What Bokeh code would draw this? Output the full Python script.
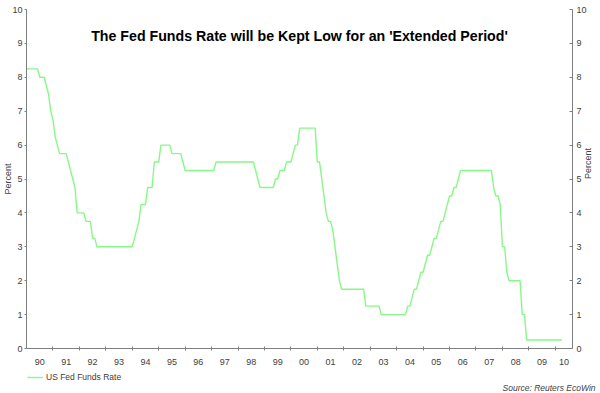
import math
from bokeh.plotting import figure
from bokeh.layouts import column
from bokeh.models import (LinearAxis, FixedTicker, Label, Legend, LegendItem,
                          Range1d)
from bokeh.embed import file_html
from bokeh.resources import INLINE

# Month-end US Fed Funds target rate (%), Jan..Dec of each year
r1990 = [8.25, 8.25, 8.25, 8.25, 8.25, 8.25, 8.0, 8.0, 8.0, 7.75, 7.5, 7.0]
r1991 = [6.75, 6.25, 6.0, 5.75, 5.75, 5.75, 5.75, 5.5, 5.25, 5.0, 4.75, 4.0]
r1992 = [4.0, 4.0, 4.0, 3.75, 3.75, 3.75, 3.25, 3.25, 3.0, 3.0, 3.0, 3.0]
r1993 = [3.0, 3.0, 3.0, 3.0, 3.0, 3.0, 3.0, 3.0, 3.0, 3.0, 3.0, 3.0]
r1994 = [3.0, 3.25, 3.5, 3.75, 4.25, 4.25, 4.25, 4.75, 4.75, 4.75, 5.5, 5.5]
r1995 = [5.5, 6.0, 6.0, 6.0, 6.0, 6.0, 5.75, 5.75, 5.75, 5.75, 5.75, 5.5]
r1996 = [5.25, 5.25, 5.25, 5.25, 5.25, 5.25, 5.25, 5.25, 5.25, 5.25, 5.25, 5.25]
r1997 = [5.25, 5.25, 5.5, 5.5, 5.5, 5.5, 5.5, 5.5, 5.5, 5.5, 5.5, 5.5]
r1998 = [5.5, 5.5, 5.5, 5.5, 5.5, 5.5, 5.5, 5.5, 5.25, 5.0, 4.75, 4.75]
r1999 = [4.75, 4.75, 4.75, 4.75, 4.75, 5.0, 5.0, 5.25, 5.25, 5.25, 5.5, 5.5]
r2000 = [5.5, 5.75, 6.0, 6.0, 6.5, 6.5, 6.5, 6.5, 6.5, 6.5, 6.5, 6.5]
r2001 = [5.5, 5.5, 5.0, 4.5, 4.0, 3.75, 3.75, 3.5, 3.0, 2.5, 2.0, 1.75]
r2002 = [1.75, 1.75, 1.75, 1.75, 1.75, 1.75, 1.75, 1.75, 1.75, 1.75, 1.25, 1.25]
r2003 = [1.25, 1.25, 1.25, 1.25, 1.25, 1.0, 1.0, 1.0, 1.0, 1.0, 1.0, 1.0]
r2004 = [1.0, 1.0, 1.0, 1.0, 1.0, 1.25, 1.25, 1.5, 1.75, 1.75, 2.0, 2.25]
r2005 = [2.25, 2.5, 2.75, 2.75, 3.0, 3.25, 3.25, 3.5, 3.75, 3.75, 4.0, 4.25]
r2006 = [4.5, 4.5, 4.75, 4.75, 5.0, 5.25, 5.25, 5.25, 5.25, 5.25, 5.25, 5.25]
r2007 = [5.25, 5.25, 5.25, 5.25, 5.25, 5.25, 5.25, 5.25, 4.75, 4.5, 4.5, 4.25]
r2008 = [3.0, 3.0, 2.25, 2.0, 2.0, 2.0, 2.0, 2.0, 2.0, 1.0, 1.0, 0.25]
r2009 = [0.25, 0.25, 0.25, 0.25, 0.25, 0.25, 0.25, 0.25, 0.25, 0.25, 0.25, 0.25]
r2010 = [0.25, 0.25, 0.25, 0.25]

yearly = [(1990, r1990), (1991, r1991), (1992, r1992), (1993, r1993),
          (1994, r1994), (1995, r1995), (1996, r1996), (1997, r1997),
          (1998, r1998), (1999, r1999), (2000, r2000), (2001, r2001),
          (2002, r2002), (2003, r2003), (2004, r2004), (2005, r2005),
          (2006, r2006), (2007, r2007), (2008, r2008), (2009, r2009),
          (2010, r2010)]

year_labels = ["90", "91", "92", "93", "94", "95", "96", "97", "98", "99",
               "00", "01", "02", "03", "04", "05", "06", "07", "08", "09", "10"]
y_ticks = [0, 1, 2, 3, 4, 5, 6, 7, 8, 9, 10]

series_name = "US Fed Funds Rate"
title_text = "The Fed Funds Rate will be Kept Low for an 'Extended Period'"
source_text = "Source: Reuters EcoWin"
axis_name = "Percent"

xs, ys = [], []
for yr, vals in yearly:
    for m, v in enumerate(vals):
        xs.append(yr + m / 12.0)
        ys.append(v)

X0, X1 = 1990.0, 2010.65
years = [yr for yr, _ in yearly]
label_pos = [yr + 0.5 for yr in years[:-1]] + [(years[-1] + X1) / 2.0]
bounds = [float(yr) for yr in years[1:]]

FONT = "Liberation Sans"
AX = "#7f7f7f"
TXT = "#404040"
LINE = "#88f888"

W = 600
H_MAIN = 368
H_FOOT = 25

p = figure(width=W, height=H_MAIN, output_backend="svg", toolbar_location=None,
           x_range=Range1d(X0, X1), y_range=Range1d(0, 10),
           min_border_left=20, min_border_right=20, min_border_top=9,
           min_border_bottom=20, frame_align=False)
p.grid.visible = False
p.outline_line_color = None

line = p.line(xs, ys, line_color=LINE, line_width=1.4)

# left axis
ya = p.yaxis[0]
ya.ticker = FixedTicker(ticks=y_ticks)
ya.major_tick_out = 2
ya.major_tick_in = 0
ya.minor_tick_line_color = None
ya.axis_line_color = AX
ya.major_tick_line_color = AX
ya.major_label_text_font = FONT
ya.major_label_text_font_size = "9px"
ya.major_label_text_color = TXT
ya.major_label_standoff = 2
ya.axis_label = axis_name
ya.axis_label_text_font = FONT
ya.axis_label_text_font_size = "9px"
ya.axis_label_text_font_style = "normal"
ya.axis_label_text_color = TXT
ya.axis_label_standoff = -4

# right axis
ra = LinearAxis(ticker=FixedTicker(ticks=y_ticks))
ra.major_tick_out = 0
ra.major_tick_in = 3
ra.minor_tick_line_color = None
ra.axis_line_color = AX
ra.major_tick_line_color = AX
ra.major_label_text_font = FONT
ra.major_label_text_font_size = "9px"
ra.major_label_text_color = TXT
ra.major_label_standoff = 4
ra.axis_label = axis_name
ra.axis_label_text_font = FONT
ra.axis_label_text_font_size = "9px"
ra.axis_label_text_font_style = "normal"
ra.axis_label_text_color = TXT
ra.axis_label_standoff = -2
ra.axis_label_orientation = math.pi / 2
p.add_layout(ra, "right")

# bottom axis
xa = p.xaxis[0]
xa.ticker = FixedTicker(ticks=label_pos, minor_ticks=bounds)
xa.major_label_overrides = {pos: lab for pos, lab in zip(label_pos, year_labels)}
xa.major_tick_line_color = None
xa.minor_tick_in = 2
xa.minor_tick_out = 2
xa.minor_tick_line_color = AX
xa.axis_line_color = AX
xa.major_label_text_font = FONT
xa.major_label_text_font_size = "9px"
xa.major_label_text_color = TXT
xa.major_label_standoff = 4

# title inside plot area
p.add_layout(Label(x=(X0 + X1) / 2, y=9.23, text=title_text,
                   text_font=FONT, text_font_size="14.2px",
                   text_font_style="bold", text_color="black",
                   text_align="center", text_baseline="middle"))

# footer with legend and source
f = figure(width=W, height=H_FOOT, output_backend="svg", toolbar_location=None,
           x_range=Range1d(0, W), y_range=Range1d(0, H_FOOT),
           x_axis_type=None, y_axis_type=None,
           min_border_left=0, min_border_right=0, min_border_top=0,
           min_border_bottom=0, frame_align=False)
f.grid.visible = False
f.outline_line_color = None
key = f.line(x=[float("nan")], y=[float("nan")], line_color=LINE, line_width=1.4)

legend = Legend(items=[LegendItem(label=series_name, renderers=[key])],
                location=(27, 11), border_line_color=None,
                background_fill_alpha=0, label_text_font=FONT,
                label_text_font_size="8.5px", label_text_color=TXT,
                glyph_width=16, glyph_height=10, padding=0, margin=0,
                label_standoff=3, label_height=10)
f.add_layout(legend, "center")

f.add_layout(Label(x=595, y=6, text=source_text, text_font=FONT,
                   text_font_size="8.5px", text_font_style="italic",
                   text_color=TXT, text_align="right",
                   text_baseline="middle"))

open("out.html", "w").write(file_html(column(p, f, spacing=0), INLINE))
